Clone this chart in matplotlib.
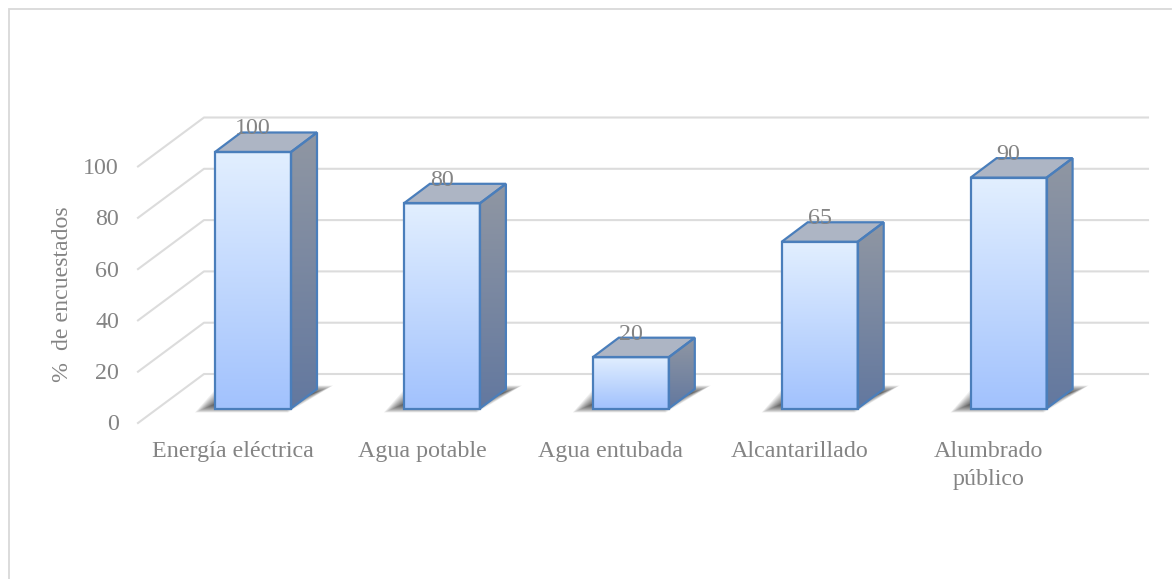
import numpy as np
import matplotlib.pyplot as plt
from matplotlib.patches import Polygon

categorias = ['Energía eléctrica', 'Agua potable', 'Agua entubada', 'Alcantarillado', 'Alumbrado\npúblico']
valores = [100, 80, 20, 65, 90]
ticks = [0, 20, 40, 60, 80, 100]

W, H = 1172, 579
PX_X = 188.9   # pixeles por categoria
PX_Y = 2.565   # pixeles por unidad de %
x0, y0 = 253.0, 408.5

plt.rcParams['font.family'] = ['Liberation Serif', 'DejaVu Serif']
gris = '#848484'

fig = plt.figure(figsize=(W / 100, H / 100), dpi=100)
ax = fig.add_axes([0, 0, 1, 1])
ax.set_xlim(-x0 / PX_X, (W - x0) / PX_X)
ax.set_ylim((y0 - H) / PX_Y, y0 / PX_Y)
ax.axis('off')

# profundidad del efecto 3D
dx = 26 / PX_X
dy = 19.5 / PX_Y
ancho = 76 / PX_X

# marco del grafico
ax.plot([9 / PX_X - x0 / PX_X, 9 / PX_X - x0 / PX_X, (W - 1) / PX_X - x0 / PX_X],
        [(y0 - H) / PX_Y, (y0 - 9.5) / PX_Y, (y0 - 9.5) / PX_Y],
        color='#d9d9d9', lw=1.3, zorder=1, solid_joinstyle='miter')

# rejilla: pared del fondo y diagonal del piso
xi = (138 - x0) / PX_X
xb = (204 - x0) / PX_X
xd = (1148 - x0) / PX_X
off_front = -14.5 / PX_Y
off_back = 34.5 / PX_Y
for t in ticks:
    ax.plot([xi, xb, xd], [t + off_front, t + off_back, t + off_back],
            color='#dcdcdc', lw=1.5, zorder=1)
    ax.text(xi - 19 / PX_X, t + off_front - 2 / PX_Y, str(t), ha='right', va='center',
            fontsize=17.3, color=gris)

cara = np.linspace(0, 1, 128).reshape(-1, 1, 1)
frente = (1 - cara) * np.array([0.886, 0.937, 1.0]) + cara * np.array([0.635, 0.761, 0.992])
lado = (1 - cara) * np.array([0.565, 0.592, 0.639]) + cara * np.array([0.388, 0.471, 0.624])

for i, v in enumerate(valores):
    l, r = i - ancho / 2, i + ancho / 2

    # sombra difusa en el piso
    for k in range(16):
        g = k * 1.3 / PX_X
        h = k * 0.55 / PX_Y
        ax.add_patch(Polygon([(l - 20 / PX_X + g, -4 / PX_Y + h), (r - 3 / PX_X - g * 0.3, -4 / PX_Y + h),
                              (r + 42 / PX_X - g, 23 / PX_Y - h), (l + 4 / PX_X + g, 23 / PX_Y - h)],
                             fc='#202020', ec='none', alpha=0.075, zorder=2))

    # lado derecho
    p_lado = Polygon([(r, 0), (r + dx, dy), (r + dx, v + dy), (r, v)], fc='none', ec='none', zorder=3)
    ax.add_patch(p_lado)
    im = ax.imshow(lado, extent=(r, r + dx, 0, v + dy), aspect='auto', zorder=3, interpolation='bilinear')
    im.set_clip_path(p_lado)

    # frente
    ax.imshow(frente, extent=(l, r, 0, v), aspect='auto', zorder=4, interpolation='bilinear')

    # tapa superior y contornos
    ax.add_patch(Polygon([(l, v), (l + dx, v + dy), (r + dx, v + dy), (r, v)],
                         fc='#adb5c4', ec='#4a7ebb', lw=1.6, zorder=5, joinstyle='miter'))
    ax.add_patch(Polygon([(r, 0), (r + dx, dy), (r + dx, v + dy), (r, v)],
                         fc='none', ec='#4a7ebb', lw=1.6, zorder=5, joinstyle='miter'))
    ax.add_patch(Polygon([(l, 0), (l, v), (r, v), (r, 0)],
                         fc='none', ec='#4a7ebb', lw=1.6, zorder=6, joinstyle='miter'))

    ax.text(i, v + 23 / PX_Y, str(v), ha='center', va='center', fontsize=17.3, color=gris, zorder=7)
    ax.text(i - 20 / PX_X, -32.5 / PX_Y, categorias[i], ha='center', va='top', fontsize=17.3,
            color=gris, linespacing=1.42)

ax.set_xlim(-x0 / PX_X, (W - x0) / PX_X)
ax.set_ylim((y0 - H) / PX_Y, y0 / PX_Y)

ax.text((62.5 - x0) / PX_X, (y0 - 294) / PX_Y, '%  de encuestados', rotation=90, ha='center', va='center',
        fontsize=17.2, color=gris)

fig.savefig('out.png', dpi=100)
